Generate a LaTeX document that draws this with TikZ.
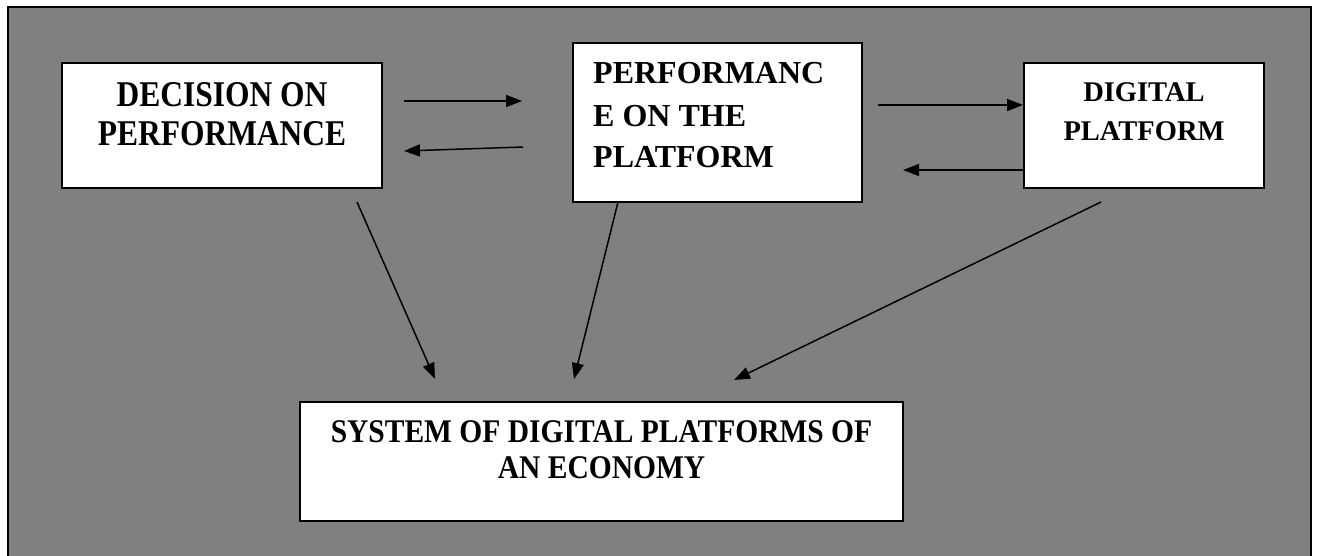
\documentclass[tikz,border=0pt]{standalone}
\usepackage{fontspec}
\setmainfont{Liberation Serif}
\usetikzlibrary{arrows.meta}
\definecolor{bggray}{RGB}{128,128,128}
\begin{document}
\begin{tikzpicture}[x=1pt,y=-1pt,
  box/.style={draw=black, fill=white, line width=2pt, inner sep=0pt},
  lbl/.style={inner sep=0pt, anchor=base},
  conn/.style={line width=1.5pt, -{Triangle[length=16pt,width=12pt]}}]
\useasboundingbox (0,0) rectangle (1317,555);
\fill[white] (0,0) rectangle (1317,555);
\node[fill=bggray, inner sep=0pt, minimum width=1303, minimum height=555] (frame) at (659.5,284.5) {};
\draw[line width=2.2pt] (frame.south west) -- (frame.north west) -- (frame.north east) -- (frame.south east);
% boxes
\node[box, minimum width=320, minimum height=125] (dec) at (222,125.5) {};
\node[box, minimum width=289, minimum height=159] (perf) at (717.5,122.5) {};
\node[box, minimum width=240, minimum height=125] (dig) at (1144,125.5) {};
\node[box, minimum width=603, minimum height=119] (sys) at (601.5,461.5) {};
% texts
\begin{scope}[every node/.append style={font=\bfseries\fontsize{31.5}{36}\selectfont}]
\node[lbl] (decA) at (222,106) {\scalebox{1}[1.15]{DECISION ON}};
\node[lbl] (decB) at (222,145) {\scalebox{1}[1.15]{PERFORMANCE}};
\end{scope}
\begin{scope}[every node/.append style={font=\bfseries\fontsize{32}{40}\selectfont}]
\node[lbl, anchor=base west] (perfA) at (593,83) {PERFORMANC};
\node[lbl, anchor=base west] (perfB) at (593,126) {E ON THE};
\node[lbl, anchor=base west] (perfC) at (593,167) {PLATFORM};
\end{scope}
\begin{scope}[every node/.append style={font=\bfseries\fontsize{28.5}{36}\selectfont}]
\node[lbl] (digA) at (1144,101) {DIGITAL};
\node[lbl] (digB) at (1144,140) {PLATFORM};
\end{scope}
\begin{scope}[every node/.append style={font=\bfseries\fontsize{29.5}{36}\selectfont}]
\node[lbl] (sysA) at (601.5,442) {\scalebox{1}[1.12]{SYSTEM OF DIGITAL PLATFORMS OF}};
\node[lbl] (sysB) at (601.5,478) {\scalebox{1}[1.12]{AN ECONOMY}};
\end{scope}
% connector endpoints
\coordinate (a1s) at (404,101);
\coordinate (a1e) at (522,101);
\coordinate (a2s) at (523,147);
\coordinate (a2e) at (404,151);
\coordinate (a3s) at (878,105);
\coordinate (a4e) at (903,170);
\coordinate (a5s) at (357,202);
\coordinate (a5e) at (435,379);
\coordinate (a6s) at (618,202);
\coordinate (a6e) at (574,379);
\coordinate (a7s) at (1101,202);
\coordinate (a7e) at (734,380);
% connectors
\draw[conn] (a1s) -- (a1e);
\draw[conn] (a2s) -- (a2e);
\draw[conn] (a3s) -- (a3s -| dig.west);
\draw[conn] (dig.west |- a4e) -- (a4e);
\draw[conn] (a5s) -- (a5e);
\draw[conn] (a6s) -- (a6e);
\draw[conn] (a7s) -- (a7e);
\end{tikzpicture}
\end{document}
